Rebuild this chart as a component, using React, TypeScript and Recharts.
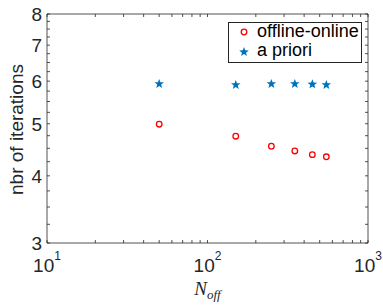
import { ScatterChart, Scatter, XAxis, YAxis, Legend } from "recharts";

// values
const nOff = [50, 150, 250, 350, 450, 550];
const offlineOnline = [4.99, 4.74, 4.54, 4.45, 4.38, 4.34];
const aPriori = [5.93, 5.905, 5.93, 5.93, 5.92, 5.905];
const seriesNames = ["offline-online", "a priori"];

const xMajor = [10, 100, 1000];
const xTicks = [10, 20, 30, 40, 50, 60, 70, 80, 90, 100, 200, 300, 400, 500, 600, 700, 800, 900, 1000];
const yMajor = [3, 4, 5, 6, 7, 8];
const yTicks = [
  3, 3.25, 3.5, 3.75, 4, 4.25, 4.5, 4.75, 5, 5.25, 5.5, 5.75, 6, 6.25, 6.5, 6.75, 7, 7.25, 7.5, 7.75, 8,
];

const AXIS = "#262626";
const RED = "#ff0000";
const BLUE = "#0072bd";
const SANS = "'Liberation Sans', Arial, Helvetica, sans-serif";
const SERIF = "'Liberation Serif', 'DejaVu Serif', serif";
const TICK = 3;

const offData = nOff.map((x, i) => ({ x, y: offlineOnline[i] }));
const prioriData = nOff.map((x, i) => ({ x, y: aPriori[i] }));

function starPath(cx: number, cy: number, R: number) {
  const r = R * 0.42;
  let d = "";
  for (let k = 0; k < 10; k++) {
    const a = -Math.PI / 2 + (k * Math.PI) / 5;
    const rad = k % 2 === 0 ? R : r;
    d += (k === 0 ? "M" : "L") + (cx + rad * Math.cos(a)).toFixed(2) + "," + (cy + rad * Math.sin(a)).toFixed(2);
  }
  return d + "Z";
}

const Circle = (p: any) => <circle cx={p.cx} cy={p.cy} r={2.8} fill="none" stroke={RED} strokeWidth={1.3} />;
const Star = (p: any) => <path d={starPath(p.cx, p.cy, 5)} fill={BLUE} />;

function BottomTick({ x, y, payload }: any) {
  const v = payload.value;
  return (
    <g>
      <line x1={x} x2={x} y1={y} y2={y - TICK} stroke={AXIS} strokeWidth={0.8} />
      {xMajor.includes(v) && (
        <text x={x} y={y + 29} textAnchor="middle" fontSize={19} fill={AXIS} fontFamily={SANS}>
          10
          <tspan dy={-12} fontSize={12}>
            {Math.round(Math.log10(v))}
          </tspan>
        </text>
      )}
    </g>
  );
}

const TopTick = ({ x, y }: any) => <line x1={x} x2={x} y1={y} y2={y + TICK} stroke={AXIS} strokeWidth={0.8} />;

function LeftTick({ x, y, payload }: any) {
  const v = payload.value;
  return (
    <g>
      <line x1={x} x2={x + TICK} y1={y} y2={y} stroke={AXIS} strokeWidth={0.8} />
      {yMajor.includes(v) && (
        <text x={x - 5} y={y + 6.8} textAnchor="end" fontSize={19} fill={AXIS} fontFamily={SANS}>
          {v}
        </text>
      )}
    </g>
  );
}

const RightTick = ({ x, y }: any) => <line x1={x} x2={x - TICK} y1={y} y2={y} stroke={AXIS} strokeWidth={0.8} />;

const YLabel = () => (
  <text
    x={23}
    y={129.5}
    transform="rotate(-90 23 129.5)"
    textAnchor="middle"
    fontSize={19}
    fill={AXIS}
    fontFamily={SANS}
  >
    nbr of iterations
  </text>
);

const XLabel = () => (
  <text x={207.5} y={295} textAnchor="middle" fontSize={19} fill={AXIS} fontFamily={SERIF} fontStyle="italic">
    N
    <tspan fontSize={13} dy={4}>
      off
    </tspan>
  </text>
);

const LegendBox = () => (
  <svg width={134} height={41} style={{ display: "block" }}>
    <rect x={0.5} y={0.5} width={133} height={40} fill="#fff" stroke={AXIS} strokeWidth={1} />
    <circle cx={16} cy={10} r={2.8} fill="none" stroke={RED} strokeWidth={1.3} />
    <text x={29} y={15} fontSize={18} fill="#000" fontFamily={SANS}>
      {seriesNames[0]}
    </text>
    <path d={starPath(16, 30, 5)} fill={BLUE} />
    <text x={29} y={34} fontSize={18} fill="#000" fontFamily={SANS}>
      {seriesNames[1]}
    </text>
  </svg>
);

const axisCommon = {
  type: "number" as const,
  scale: "log" as const,
  allowDataOverflow: true,
  interval: 0 as const,
  tickSize: 0,
  tickMargin: 0,
  tickLine: false,
  axisLine: { stroke: AXIS, strokeWidth: 0.8 },
};

export default function App() {
  return (
    <div style={{ position: "absolute", left: 0, top: 0, width: 383, height: 306, background: "#fff" }}>
      <ScatterChart width={383} height={306} margin={{ top: 13, right: 14, bottom: 62, left: 46 }}>
        <XAxis
          {...axisCommon}
          dataKey="x"
          domain={[10, 1000]}
          ticks={xTicks}
          height={1}
          tick={<BottomTick />}
          label={<XLabel />}
        />
        <XAxis
          {...axisCommon}
          xAxisId="top"
          orientation="top"
          dataKey="x"
          domain={[10, 1000]}
          ticks={xTicks}
          height={1}
          tick={<TopTick />}
        />
        <YAxis
          {...axisCommon}
          dataKey="y"
          domain={[3, 8]}
          ticks={yTicks}
          width={1}
          tick={<LeftTick />}
          label={<YLabel />}
        />
        <YAxis
          {...axisCommon}
          yAxisId="right"
          orientation="right"
          dataKey="y"
          domain={[3, 8]}
          ticks={yTicks}
          width={1}
          tick={<RightTick />}
        />
        <Legend
          layout="vertical"
          align="center"
          verticalAlign="middle"
          content={<LegendBox />}
          wrapperStyle={{ position: "absolute", left: 228, top: 22, width: 134, height: 41 }}
        />
        <Scatter name={seriesNames[0]} data={offData} shape={<Circle />} isAnimationActive={false} />
        <Scatter name={seriesNames[1]} data={prioriData} shape={<Star />} isAnimationActive={false} />
      </ScatterChart>
    </div>
  );
}
